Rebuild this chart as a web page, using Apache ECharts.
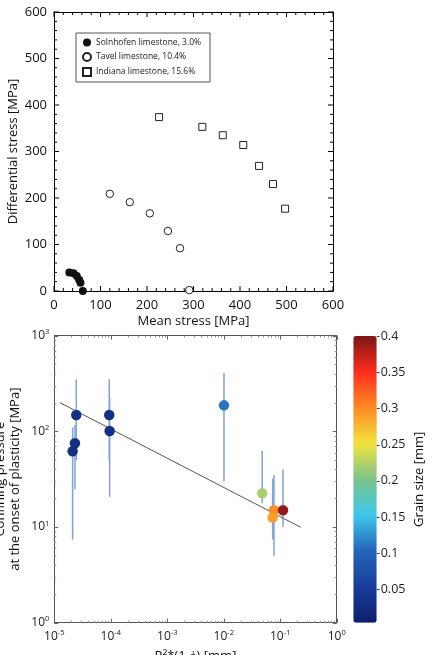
<!DOCTYPE html>
<html><head><meta charset="utf-8">
<script src="https://cdn.jsdelivr.net/npm/echarts@6/dist/echarts.min.js"></script>
<style>html,body{margin:0;padding:0;background:#fff}#c{width:436px;height:655px}</style>
</head><body><div id="c"></div>
<script>
// ---- top chart data ----
const seriesNames = ['Solnhofen limestone, 3.0%', 'Tavel limestone, 10.4%', 'Indiana limestone, 15.6%'];
const solnhofen = [[33,40],[42,38],[49,32],[54,24],[57,18],[62,0]];
const tavel = [[120,209],[163,191],[206,167],[245,129],[271,92],[291,2]];
const indiana = [[226,374],[319,353],[363,335],[407,314],[441,269],[471,230],[497,177]];

// ---- bottom chart data ----
const rX    = [2.45e-5, 2.32e-5, 2.11e-5, 9.4e-5, 9.55e-5, 1.01e-2, 0.048, 0.0776, 0.0735, 0.112];
const pc    = [148, 75, 62, 148, 101, 187, 22.5, 15, 12.6, 15];
const grain = [0.03, 0.03, 0.03, 0.03, 0.03, 0.11, 0.22, 0.3, 0.29, 0.39];
const errLow  = [50, 24.8, 7.4, 50, 20.7, 30, 17.7, 5, 7.4, 10];
const errHigh = [350, 116, 110, 350, 222, 410, 62.8, 35, 32, 40];
const fitX = [1.26e-5, 0.231];
const fitY = [199.5, 9.94];
const xDecades = [-5, -4, -3, -2, -1, 0];
const yDecades = [0, 1, 2, 3];
const cbTicks = [0.05, 0.1, 0.15, 0.2, 0.25, 0.3, 0.35, 0.4];
const jet = ['#0d1f6e','#1a3d9a','#2466b8','#3ec8ec','#7cc48a','#f1e33e','#ff8a22','#ff2c1c','#7a1616'];

// tick positions: [value, isMajor]
const stressTickVals = [];
for (let v = 0; v <= 600; v += 20) stressTickVals.push([v, v % 100 === 0 ? 1 : 0]);
function logTickVals(decades) {
  const r = [];
  decades.forEach((d, i) => {
    r.push([Math.pow(10, d), 1]);
    if (i < decades.length - 1) for (let k = 2; k <= 9; k++) r.push([k * Math.pow(10, d), 0]);
  });
  return r;
}
const xLogTicks = logTickVals(xDecades);
const yLogTicks = logTickVals(yDecades);

const FONT = 'Open Sans';
const chart = echarts.init(document.getElementById('c'));
const px = v => Math.round(v) + 0.5;
function seg(x1, y1, x2, y2, color) {
  return { type: 'line', shape: { x1: x1, y1: y1, x2: x2, y2: y2 }, style: { stroke: color, lineWidth: 1 } };
}

// top chart ticks as tiny rect symbols pointing into the plot
const topTickItems = [];
stressTickVals.forEach(d => {
  const v = d[0], L = d[1] ? 5 : 3;
  topTickItems.push({ value: [v, 0],   symbolSize: [1, L], symbolOffset: [0, -L / 2] });
  topTickItems.push({ value: [v, 600], symbolSize: [1, L], symbolOffset: [0,  L / 2] });
  topTickItems.push({ value: [0, v],   symbolSize: [L, 1], symbolOffset: [ L / 2, 0] });
  topTickItems.push({ value: [600, v], symbolSize: [L, 1], symbolOffset: [-L / 2, 0] });
});

const noLabel = { show: false };
const topAxisBase = {
  type: 'value', min: 0, max: 600, interval: 100, gridIndex: 0, nameMoveOverlap: false,
  axisLine: { show: true, onZero: false, lineStyle: { color: '#000', width: 1 } },
  axisTick: { show: false }, minorTick: { show: false },
  splitLine: { show: false },
  axisLabel: { fontSize: 13, color: '#111' }
};
const logFmt = v => '{b|10}{s|' + Math.round(Math.log10(v)) + '}';
const logRich = { b: { fontSize: 12, color: '#222' }, s: { fontSize: 7.5, color: '#222', padding: [0, 0, 7, 0] } };
const logAxisBase = {
  type: 'log', logBase: 10, gridIndex: 1, nameMoveOverlap: false,
  axisLine: { show: true, onZero: false, lineStyle: { color: '#555', width: 1 } },
  axisTick: { show: false }, minorTick: { show: false },
  splitLine: { show: false },
  axisLabel: { formatter: logFmt, rich: logRich, margin: 6 }
};

const gridBase = { outerBoundsMode: 'none', containLabel: false };
const option = {
  animation: false,
  textStyle: { fontFamily: FONT },
  grid: [
    Object.assign({ left: 54, top: 12, width: 279, height: 279 }, gridBase),
    Object.assign({ left: 54.3, top: 335.7, width: 282.4, height: 287 }, gridBase),
    Object.assign({ left: 353.3, top: 336, width: 23.4, height: 286.7 }, gridBase)
  ],
  legend: {
    data: seriesNames, orient: 'vertical', left: 76, top: 33,
    padding: [5, 9, 5, 6], itemGap: 5, itemWidth: 8, itemHeight: 8,
    borderColor: '#555', borderWidth: 1, selectedMode: false,
    textStyle: { fontSize: 8.5, color: '#222' }
  },
  xAxis: [
    Object.assign({}, topAxisBase, { position: 'bottom', name: 'Mean stress [MPa]', nameLocation: 'middle', nameGap: 24, nameTextStyle: { fontSize: 13, color: '#111' }, axisLabel: { fontSize: 13, color: '#111', margin: 8 } }),
    Object.assign({}, topAxisBase, { position: 'top', axisLabel: noLabel }),
    Object.assign({}, logAxisBase, { min: 1e-5, max: 1, position: 'bottom', name: 'R²*(1-ϕ) [mm]', nameLocation: 'middle', nameGap: 27, nameTextStyle: { fontSize: 13, color: '#111' } }),
    Object.assign({}, logAxisBase, { min: 1e-5, max: 1, position: 'top', axisLabel: noLabel }),
    { gridIndex: 2, type: 'value', min: 0, max: 1, show: false }
  ],
  yAxis: [
    Object.assign({}, topAxisBase, { position: 'left', name: 'Differential stress [MPa]', nameLocation: 'middle', nameGap: 34, nameTextStyle: { fontSize: 13, color: '#111' }, axisLabel: { fontSize: 13, color: '#111', margin: 7 } }),
    Object.assign({}, topAxisBase, { position: 'right', axisLabel: noLabel }),
    Object.assign({}, logAxisBase, { min: 1, max: 1000, position: 'left', name: 'Confining pressure\nat the onset of plasticity [MPa]', nameLocation: 'middle', nameGap: 31.5, nameTextStyle: { fontSize: 13, color: '#111', lineHeight: 15 }, axisLabel: { formatter: logFmt, rich: logRich, margin: 5 } }),
    Object.assign({}, logAxisBase, { min: 1, max: 1000, position: 'right', axisLabel: noLabel }),
    {
      gridIndex: 2, type: 'value', min: 0.004, max: 0.4, position: 'right', nameMoveOverlap: false,
      axisLine: { show: false }, splitLine: { show: false }, axisTick: { show: false },
      axisLabel: { customValues: cbTicks, fontSize: 12.5, color: '#222', margin: 4 },
      name: 'Grain size [mm]', nameLocation: 'middle', nameRotate: 90, nameGap: 36,
      nameTextStyle: { fontSize: 13, color: '#111' }
    }
  ],
  visualMap: {
    type: 'continuous', min: 0.004, max: 0.4, dimension: 2, seriesIndex: 6,
    calculable: false, hoverLink: false, orient: 'vertical',
    left: 353.3, top: 336, itemWidth: 23.4, itemHeight: 286.7, padding: 0,
    inRange: { color: jet }
  },
  series: [
    { name: seriesNames[0], type: 'scatter', xAxisIndex: 0, yAxisIndex: 0, data: solnhofen,
      symbol: 'circle', symbolSize: 8, itemStyle: { color: '#111', opacity: 1 } },
    { name: seriesNames[1], type: 'scatter', xAxisIndex: 0, yAxisIndex: 0, data: tavel,
      symbol: 'circle', symbolSize: 7.5, itemStyle: { color: '#fff', borderColor: '#222', borderWidth: 1, opacity: 1 } },
    { name: seriesNames[2], type: 'scatter', xAxisIndex: 0, yAxisIndex: 0, data: indiana,
      symbol: 'rect', symbolSize: 7, itemStyle: { color: '#fff', borderColor: '#222', borderWidth: 1, opacity: 1 } },
    // top chart inward ticks on all four sides
    { type: 'scatter', xAxisIndex: 0, yAxisIndex: 0, silent: true, clip: false, z: 5,
      symbol: 'rect', data: topTickItems, itemStyle: { color: '#000', opacity: 1 } },
    { type: 'custom', xAxisIndex: 2, yAxisIndex: 2, silent: true, z: 1,
      data: rX.map((x, i) => [x, errLow[i], errHigh[i]]),
      encode: { x: 0, y: [1, 2] },
      renderItem: (params, api) => {
        const x = api.value(0);
        const p1 = api.coord([x, api.value(1)]);
        const p2 = api.coord([x, api.value(2)]);
        return { type: 'line', shape: { x1: p1[0], y1: p1[1], x2: p2[0], y2: p2[1] },
                 style: { stroke: '#7fa2d8', lineWidth: 1.5 } };
      } },
    { type: 'line', xAxisIndex: 2, yAxisIndex: 2, z: 2, silent: true,
      data: fitX.map((x, i) => [x, fitY[i]]), symbol: 'none',
      lineStyle: { color: '#555', width: 1 } },
    { type: 'scatter', xAxisIndex: 2, yAxisIndex: 2, z: 3,
      data: rX.map((x, i) => [x, pc[i], grain[i]]), symbolSize: 10.5, itemStyle: { opacity: 1 } },
    // bottom chart log ticks (x)
    { type: 'custom', xAxisIndex: 2, yAxisIndex: 2, silent: true, clip: false, z: 5,
      data: xLogTicks.map(d => [d[0], 10, d[1]]),
      encode: { x: 0, y: 1 },
      renderItem: (params, api) => {
        const v = api.value(0), major = api.value(2);
        const L = major ? 4 : 2, c = major ? '#666' : '#999';
        const b = api.coord([v, 1]), t = api.coord([v, 1000]);
        return { type: 'group', children: [
          seg(px(b[0]), b[1], px(b[0]), b[1] - L, c),
          seg(px(t[0]), t[1], px(t[0]), t[1] + L, c)
        ] };
      } },
    // bottom chart log ticks (y)
    { type: 'custom', xAxisIndex: 2, yAxisIndex: 2, silent: true, clip: false, z: 5,
      data: yLogTicks.map(d => [1e-3, d[0], d[1]]),
      encode: { x: 0, y: 1 },
      renderItem: (params, api) => {
        const v = api.value(1), major = api.value(2);
        const L = major ? 4 : 2, c = major ? '#666' : '#999';
        const l = api.coord([1e-5, v]), r = api.coord([1, v]);
        return { type: 'group', children: [
          seg(l[0], px(l[1]), l[0] + L, px(l[1]), c),
          seg(r[0], px(r[1]), r[0] - L, px(r[1]), c)
        ] };
      } },
    // colorbar ticks on its right edge
    { type: 'custom', xAxisIndex: 4, yAxisIndex: 4, silent: true, clip: false, z: 5,
      data: cbTicks.map(v => [0.5, v]),
      encode: { x: 0, y: 1 },
      renderItem: (params, api) => {
        const r = api.coord([1, api.value(1)]);
        return seg(r[0], px(r[1]), r[0] + 3, px(r[1]), '#444');
      } }
  ]
};
chart.setOption(option);
</script></body></html>
